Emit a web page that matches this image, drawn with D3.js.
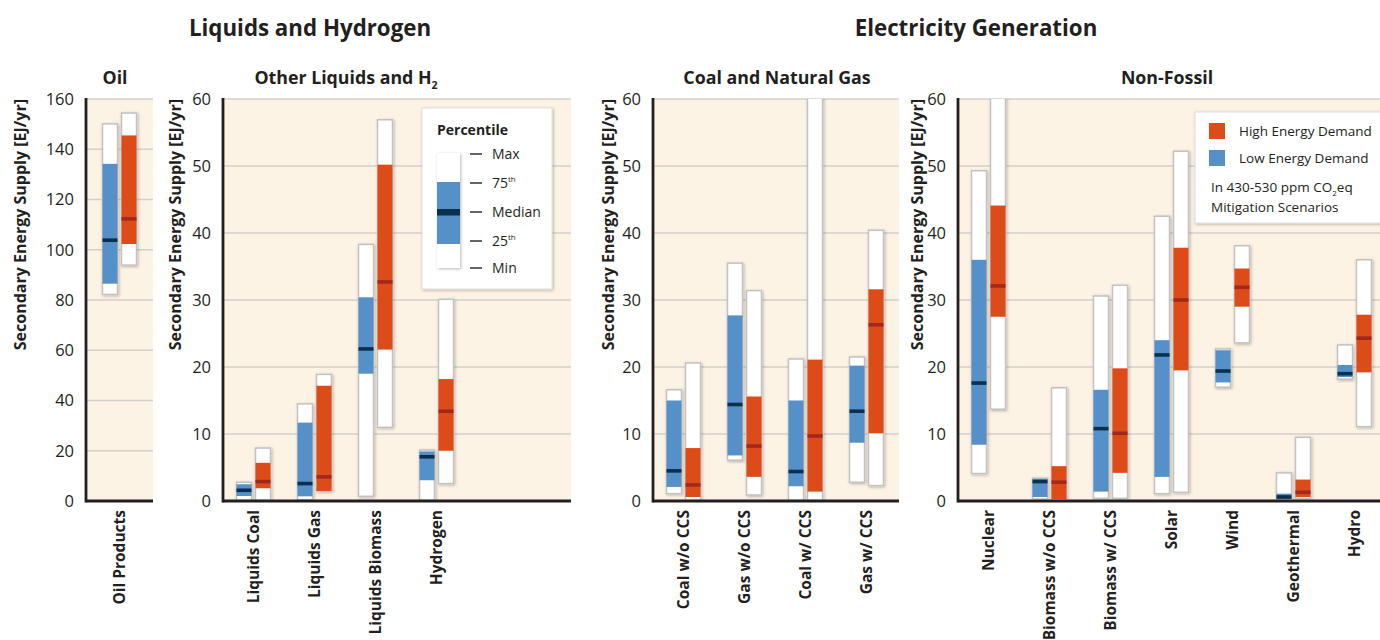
<!DOCTYPE html>
<html>
<head>
<meta charset="utf-8">
<script src="https://cdn.jsdelivr.net/npm/d3@7"></script>
<style>
  body { margin: 0; background: #fff; }
  svg { font-family: "Open Sans", "Noto Sans", sans-serif; }
</style>
</head>
<body>
<div id="chart"></div>
<script>
// each entry: [min, 25th, median, 75th, max]  (EJ/yr)
var oilCats = ["Oil Products"];
var oilLow  = [[82.2, 86.5, 103.8, 134.2, 150.1]];
var oilHigh = [[93.9, 102.3, 112.3, 145.5, 154.4]];

var liqCats = ["Liquids Coal", "Liquids Gas", "Liquids Biomass", "Hydrogen"];
var liqLow  = [[0.1, 0.75, 1.6, 2.5, 2.8], [0.2, 0.7, 2.6, 11.7, 14.5], [0.7, 19.0, 22.7, 30.4, 38.3], [0.1, 3.1, 6.6, 7.4, 7.6]];
var liqHigh = [[0.1, 1.9, 2.9, 5.7, 7.9], [1.5, 1.5, 3.6, 17.2, 18.9], [11.0, 22.6, 32.7, 50.2, 56.9], [2.6, 7.5, 13.4, 18.2, 30.1]];

var fosCats = ["Coal w/o CCS", "Gas w/o CCS", "Coal w/ CCS", "Gas w/ CCS"];
var fosLow  = [[1.1, 2.1, 4.5, 15.0, 16.6], [6.1, 6.8, 14.4, 27.7, 35.5], [0.1, 2.2, 4.4, 15.0, 21.2], [2.8, 8.7, 13.4, 20.2, 21.5]];
var fosHigh = [[0.1, 0.6, 2.4, 7.9, 20.6], [0.9, 3.6, 8.2, 15.6, 31.4], [0.1, 1.4, 9.7, 21.1, 75], [2.3, 10.1, 26.3, 31.6, 40.4]];

var nfCats = ["Nuclear", "Biomass w/o CCS", "Biomass w/ CCS", "Solar", "Wind", "Geothermal", "Hydro"];
var nfLow  = [[4.1, 8.4, 17.6, 36.0, 49.3], [0.3, 0.6, 2.9, 3.3, 3.4], [0.4, 1.4, 10.8, 16.6, 30.6], [1.1, 3.6, 21.8, 24.0, 42.5],
              [17.0, 17.7, 19.4, 22.5, 22.7], [0.2, 0.3, 0.6, 1.1, 4.2], [18.2, 18.5, 19.0, 20.3, 23.3]];
var nfHigh = [[13.7, 27.5, 32.1, 44.1, 70], [0.3, 0.3, 2.8, 5.2, 16.9], [0.4, 4.2, 10.1, 19.8, 32.2], [1.3, 19.5, 30.0, 37.8, 52.2],
              [23.6, 29.0, 31.9, 34.7, 38.1], [0.4, 0.6, 1.3, 3.2, 9.5], [11.1, 19.2, 24.3, 27.8, 36.0]];

var yTicksOil = [0, 20, 40, 60, 80, 100, 120, 140, 160];
var yTicks60 = [0, 10, 20, 30, 40, 50, 60];

var colLow = "#5590c8", colLowMed = "#0b2f4f";
var colHigh = "#dd4b19", colHighMed = "#a2281c";
var bgCol = "#fdf3e4", gridCol = "#d2d0cc", textCol = "#231f20";

var W = 1380, H = 640, yTop = 99, yBot = 501;

var svg = d3.select("#chart").append("svg")
    .attr("width", W).attr("height", H);

var defs = svg.append("defs");
var f = defs.append("filter").attr("id", "shadow")
    .attr("x", "-50%").attr("y", "-10%").attr("width", "200%").attr("height", "120%");
f.append("feDropShadow").attr("dx", 1).attr("dy", 1).attr("stdDeviation", 1.4)
    .attr("flood-color", "#000").attr("flood-opacity", 0.28);

//group titles
svg.append("text").attr("x", 310).attr("y", 36).attr("text-anchor", "middle")
    .attr("font-size", 22.3).attr("font-weight", "bold").attr("fill", textCol)
    .text("Liquids and Hydrogen");
svg.append("text").attr("x", 976).attr("y", 36).attr("text-anchor", "middle")
    .attr("font-size", 22.3).attr("font-weight", "bold").attr("fill", textCol)
    .text("Electricity Generation");

var panels = [
    {id: "oil", title: "Oil", cats: oilCats, low: oilLow, high: oilHigh, x0: 86, x1: 153, step: 67, ymax: 160, ticks: yTicksOil, labX: 20, tx: 115},
    {id: "liq", title: "Other Liquids and H", sub: "2", cats: liqCats, low: liqLow, high: liqHigh, x0: 223, x1: 571, step: 61, ymax: 60, ticks: yTicks60, labX: 175, tx: 346},
    {id: "fos", title: "Coal and Natural Gas", cats: fosCats, low: fosLow, high: fosHigh, x0: 653, x1: 899, step: 61, ymax: 60, ticks: yTicks60, labX: 608, tx: 777},
    {id: "nf", title: "Non-Fossil", cats: nfCats, low: nfLow, high: nfHigh, x0: 958, x1: 1382, step: 61, ymax: 60, ticks: yTicks60, labX: 917, tx: 1167}
];

panels.forEach(function(p) {
    var y = d3.scaleLinear().domain([0, p.ymax]).range([yBot, yTop]);
    var x = d3.scaleBand().domain(p.cats)
        .range([p.x0, p.x0 + p.step * p.cats.length]);

    defs.append("clipPath").attr("id", "clip-" + p.id)
        .append("rect").attr("x", p.x0).attr("y", yTop)
        .attr("width", p.x1 - p.x0).attr("height", yBot - yTop);

    var g = svg.append("g");

    //background
    g.append("rect").attr("x", p.x0).attr("y", yTop)
        .attr("width", p.x1 - p.x0).attr("height", yBot - yTop)
        .attr("fill", bgCol);

    //grid
    g.selectAll(".grid").data(p.ticks.filter(function(d) { return d > 0; }))
        .enter().append("line")
        .attr("x1", p.x0).attr("x2", p.x1)
        .attr("y1", function(d) { return y(d); }).attr("y2", function(d) { return y(d); })
        .attr("stroke", gridCol).attr("stroke-width", 1.3);

    //y axis tick labels
    var ax = g.append("g").attr("transform", "translate(" + p.x0 + ",0)")
        .call(d3.axisLeft(y).tickValues(p.ticks).tickSize(0).tickPadding(12));
    ax.select(".domain").remove();
    ax.selectAll("text").attr("font-size", 16.5).attr("fill", textCol)
        .attr("font-family", "'Open Sans', sans-serif");

    //y axis title
    g.append("text")
        .attr("transform", "translate(" + p.labX + "," + yTop + ") rotate(-90)")
        .attr("text-anchor", "end").attr("dy", "0.35em")
        .attr("font-size", 16).attr("font-weight", "bold").attr("fill", textCol)
        .text("Secondary Energy Supply [EJ/yr]");

    //panel title
    var t = g.append("text")
        .attr("x", p.tx).attr("y", 84).attr("text-anchor", "middle")
        .attr("font-size", 17.8).attr("font-weight", "bold").attr("fill", textCol)
        .text(p.title);
    if (p.sub) {
        t.append("tspan").attr("font-size", 10.5).attr("dy", 5).text(p.sub);
    }

    //bars
    var bars = g.append("g").attr("clip-path", "url(#clip-" + p.id + ")");
    var bw = 15;
    p.cats.forEach(function(c, i) {
        var cx = x(c) + x.bandwidth() / 2;
        [[p.low[i], cx - 17, colLow, colLowMed], [p.high[i], cx + 2, colHigh, colHighMed]].forEach(function(b) {
            var v = b[0], bx = b[1];
            bars.append("rect")
                .attr("x", bx).attr("y", y(v[4]))
                .attr("width", bw).attr("height", y(v[0]) - y(v[4]))
                .attr("fill", "#fff").attr("stroke", "#c2c2c2").attr("stroke-width", 1.5)
                .attr("filter", "url(#shadow)");
            bars.append("rect")
                .attr("x", bx).attr("y", y(v[3]))
                .attr("width", bw).attr("height", Math.max(0, y(v[1]) - y(v[3])))
                .attr("fill", b[2]);
            bars.append("rect")
                .attr("x", bx).attr("y", y(v[2]) - 1.8)
                .attr("width", bw).attr("height", 3.6)
                .attr("fill", b[3]);
        });

        //category label
        g.append("text")
            .attr("transform", "translate(" + cx + ",510) rotate(-90)")
            .attr("text-anchor", "end").attr("dy", "0.35em")
            .attr("font-size", 15.5).attr("font-weight", "bold").attr("fill", textCol)
            .text(c);
    });

    //axis lines
    g.append("line").attr("x1", p.x0).attr("x2", p.x0).attr("y1", yTop - 1).attr("y2", yBot + 1.5)
        .attr("stroke", "#231f20").attr("stroke-width", 2.8);
    g.append("line").attr("x1", p.x0).attr("x2", p.x1).attr("y1", yBot).attr("y2", yBot)
        .attr("stroke", "#231f20").attr("stroke-width", 2.8);
});

//percentile legend
var lg = svg.append("g");
lg.append("rect").attr("x", 422).attr("y", 108).attr("width", 130).attr("height", 181)
    .attr("fill", "#fff").attr("stroke", "#dedede").attr("filter", "url(#shadow)");
lg.append("text").attr("x", 437).attr("y", 135).attr("font-size", 14).attr("font-weight", "bold")
    .attr("fill", textCol).text("Percentile");
lg.append("rect").attr("x", 437).attr("y", 153).attr("width", 23).attr("height", 115)
    .attr("fill", "#fff").attr("filter", "url(#shadow)");
lg.append("rect").attr("x", 437).attr("y", 182).attr("width", 23).attr("height", 62).attr("fill", colLow);
lg.append("rect").attr("x", 437).attr("y", 209).attr("width", 23).attr("height", 6.5).attr("fill", colLowMed);
var pctLabels = [["Max", 154], ["75", 183, "th"], ["Median", 212], ["25", 241, "th"], ["Min", 268]];
pctLabels.forEach(function(d) {
    lg.append("line").attr("x1", 470).attr("x2", 482).attr("y1", d[1]).attr("y2", d[1])
        .attr("stroke", "#333").attr("stroke-width", 1.5);
    var tx = lg.append("text").attr("x", 492).attr("y", d[1]).attr("dy", "0.35em")
        .attr("font-size", 14).attr("fill", textCol).text(d[0]);
    if (d[2]) tx.append("tspan").attr("font-size", 8).attr("dy", -6).text(d[2]);
});

//demand legend
var dg = svg.append("g");
dg.append("rect").attr("x", 1195).attr("y", 112).attr("width", 200).attr("height", 111)
    .attr("fill", "#fff").attr("stroke", "#dedede").attr("filter", "url(#shadow)");
[["High Energy Demand", colHigh, 131], ["Low Energy Demand", colLow, 158]].forEach(function(d) {
    dg.append("rect").attr("x", 1209).attr("y", d[2] - 8).attr("width", 16).attr("height", 16).attr("fill", d[1]);
    dg.append("text").attr("x", 1239).attr("y", d[2]).attr("dy", "0.35em")
        .attr("font-size", 13.5).attr("fill", textCol).text(d[0]);
});
var nt = dg.append("text").attr("x", 1211).attr("y", 187).attr("dy", "0.35em")
    .attr("font-size", 13.5).attr("fill", textCol).text("In 430-530 ppm CO");
nt.append("tspan").attr("font-size", 8).attr("dy", 4).text("2");
nt.append("tspan").attr("dy", -4).text("eq");
dg.append("text").attr("x", 1211).attr("y", 207).attr("dy", "0.35em")
    .attr("font-size", 13.5).attr("fill", textCol).text("Mitigation Scenarios");
</script>
</body>
</html>
